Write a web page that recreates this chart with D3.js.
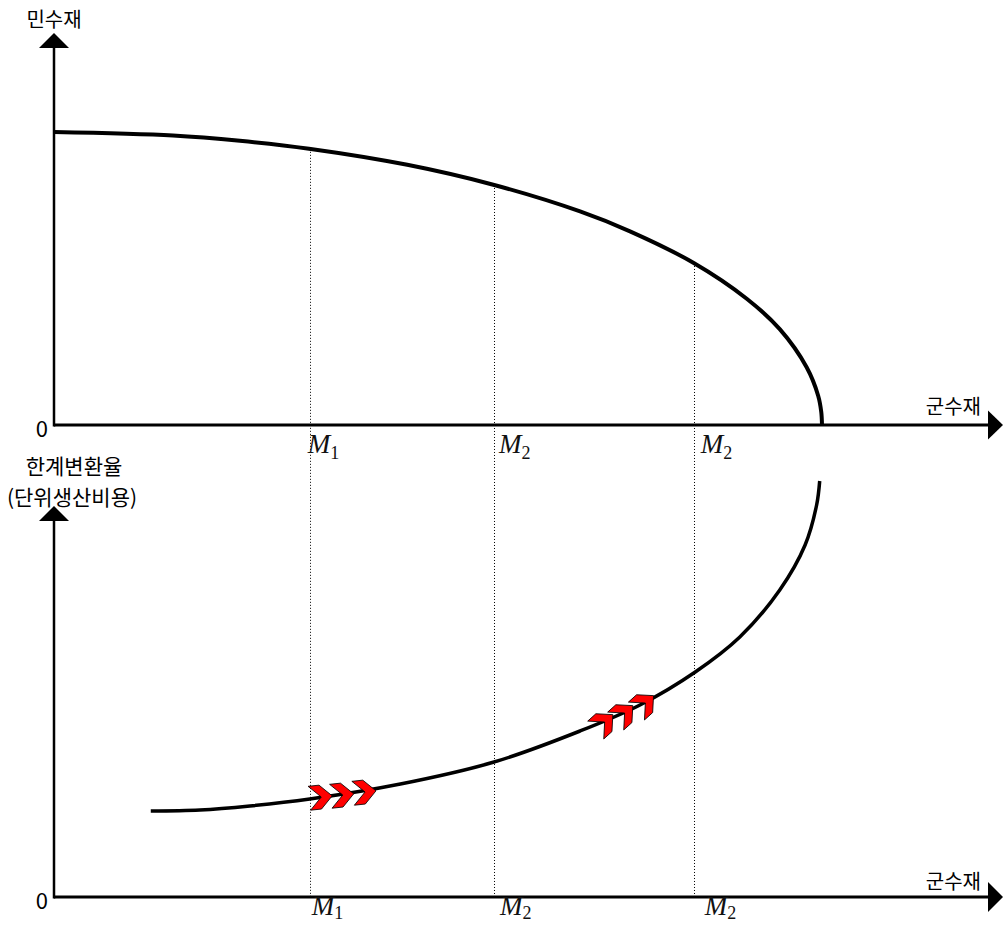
<!DOCTYPE html>
<html>
<head>
<meta charset="utf-8">
<script src="https://cdn.jsdelivr.net/npm/d3@7"></script>
<style>
    body { margin: 0; background: #fff; }
    text { font-family: "Noto Sans CJK KR", "Noto Sans", sans-serif; }
    .math { font-family: "Liberation Serif", "DejaVu Serif", serif; font-style: italic; }
</style>
</head>
<body>
<div class="container"></div>
<script>
// production possibility frontier (군수재 x, 민수재 y)
const ppfX = [0, 15.5, 24.2, 33.2, 46.0, 57.2, 68.5, 75.0, 83.3, 90.2, 94.5, 98.0, 99.5, 99.9, 100];
const ppfY = [100, 98.8, 97.0, 94.3, 88.8, 82.0, 72.9, 66.1, 55.3, 43.1, 32.7, 19.7, 10.0, 4.5, 0];

// marginal rate of transformation
const mrtX = [12.6, 19.0, 25.5, 33.3, 45.1, 57.3, 68.5, 76.3, 83.5, 89.3, 94.5, 97.8, 99.3, 99.7];
const mrtY = [21.5, 21.75, 22.75, 24.5, 28.25, 33.75, 41.5, 48, 56.25, 65, 76.75, 88, 98, 104];

// production levels marked with dotted lines
const levels = [33.3, 57.3, 83.3];
const levelSubs = ["1", "2", "2"];

// red chevrons on the MRT curve
const chevLowX = [34.8, 37.6, 40.5];
const chevLowY = [25, 25.5, 26.25];
const chevHighX = [71.7, 74.3, 77.0];
const chevHighY = [43.75, 46, 48.5];

const svgWidth = 1004, svgHeight = 925;

const svg = d3.select(".container")
    .append("svg")
    .attr("width", svgWidth)
    .attr("height", svgHeight);

//Scales
const x = d3.scaleLinear().domain([0, 100]).range([54, 822]);
const yTop = d3.scaleLinear().domain([0, 100]).range([425, 132]);
const yBot = d3.scaleLinear().domain([0, 100]).range([897, 497]);

const xEnd = 988;

// axis with arrowhead
function drawAxes(y0, yTip, xLabelY, xArrowHalf) {
    svg.append("line")
        .attr("x1", x(0)).attr("x2", xEnd)
        .attr("y1", y0).attr("y2", y0)
        .attr("stroke", "#000").attr("stroke-width", 3);
    svg.append("path")
        .attr("d", `M${xEnd},${y0 - xArrowHalf} L1003,${y0} L${xEnd},${y0 + xArrowHalf} Z`)
        .attr("fill", "#000");
    svg.append("line")
        .attr("x1", x(0)).attr("x2", x(0))
        .attr("y1", y0 + 1.5).attr("y2", yTip + 14)
        .attr("stroke", "#000").attr("stroke-width", 2.5);
    svg.append("path")
        .attr("d", `M${x(0) - 15},${yTip + 15} L${x(0)},${yTip} L${x(0) + 15},${yTip + 15} Z`)
        .attr("fill", "#000");
    svg.append("text")
        .attr("x", 48).attr("y", y0 + 12)
        .attr("text-anchor", "end")
        .attr("font-size", 22)
        .attr("font-family", "Noto Sans")
        .text("0");
    svg.append("text")
        .attr("x", 981).attr("y", xLabelY)
        .attr("text-anchor", "end")
        .attr("font-size", 20)
        .text("군수재");
}

drawAxes(yTop(0), 33, 414, 14.5);
drawAxes(yBot(0), 506, 889, 15);

// y axis titles
svg.append("text")
    .attr("x", x(0)).attr("y", 27)
    .attr("text-anchor", "middle")
    .attr("font-size", 20)
    .text("민수재");
svg.append("text")
    .attr("x", 74).attr("y", 474)
    .attr("text-anchor", "middle")
    .attr("font-size", 21)
    .text("한계변환율");
svg.append("text")
    .attr("x", 72).attr("y", 505)
    .attr("text-anchor", "middle")
    .attr("font-size", 21)
    .text("(단위생산비용)");

// dotted guide lines from the frontier down to the bottom axis
const ppfInterp = d3.scaleLinear().domain(ppfX).range(ppfY);
svg.selectAll(".guide")
    .data(levels)
    .enter()
    .append("line")
    .attr("class", "guide")
    .attr("x1", d => Math.round(x(d)) + 0.5).attr("x2", d => Math.round(x(d)) + 0.5)
    .attr("y1", d => yTop(ppfInterp(d)))
    .attr("y2", yBot(0))
    .attr("stroke", "#000")
    .attr("stroke-width", 1)
    .attr("stroke-dasharray", "1,2");

// M labels
function mLabel(px, baseY) {
    const t = svg.append("text").attr("class", "math")
        .attr("x", px).attr("y", baseY)
        .attr("font-size", 27)
        .attr("fill", "#111");
    return t;
}
const topOffsets = [-2, 5, 7];
const botOffsets = [2, 6, 11];
levels.forEach((d, i) => {
    [[topOffsets[i], 453, 6], [botOffsets[i], 915, 4]].forEach(([off, by, sdy]) => {
        const t = mLabel(x(d) + off, by);
        t.append("tspan").text("M");
        t.append("tspan")
            .attr("font-size", 18)
            .attr("font-style", "normal")
            .attr("dy", sdy)
            .text(levelSubs[i]);
    });
});

// curves
const ppfLine = d3.line()
    .x(d => x(d[0]))
    .y(d => yTop(d[1]))
    .curve(d3.curveCatmullRom.alpha(0.5));
svg.append("path")
    .datum(d3.zip(ppfX, ppfY))
    .attr("d", ppfLine)
    .attr("fill", "none")
    .attr("stroke", "#000")
    .attr("stroke-width", 4);

const mrtLine = d3.line()
    .x(d => x(d[0]))
    .y(d => yBot(d[1]))
    .curve(d3.curveCatmullRom.alpha(0.5));
svg.append("path")
    .datum(d3.zip(mrtX, mrtY))
    .attr("d", mrtLine)
    .attr("fill", "none")
    .attr("stroke", "#000")
    .attr("stroke-width", 3.5);

// chevrons
const chevronPath = "M-12,-12 L-1,-12 L11,0 L-1,12 L-12,12 L0,0 Z";
function drawChevrons(xs, ys, angle) {
    svg.selectAll(null)
        .data(d3.zip(xs, ys))
        .enter()
        .append("path")
        .attr("d", chevronPath)
        .attr("transform", d => `translate(${x(d[0])},${yBot(d[1])}) rotate(${angle})`)
        .attr("fill", "#ff0000")
        .attr("stroke", "#000")
        .attr("stroke-width", 0.8);
}
drawChevrons(chevLowX, chevLowY, -6);
drawChevrons(chevHighX, chevHighY, -42);
</script>
</body>
</html>
